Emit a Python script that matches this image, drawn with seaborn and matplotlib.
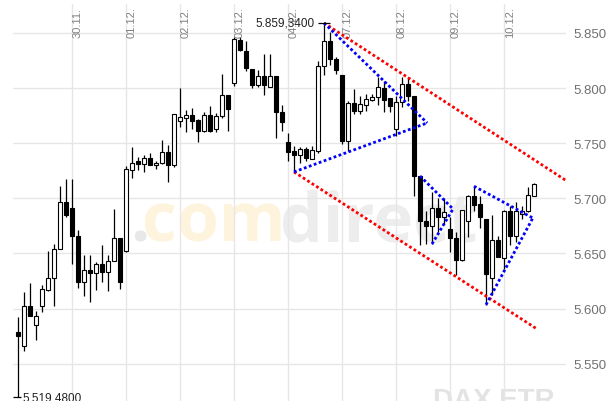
import matplotlib.pyplot as plt
import matplotlib.transforms as mtransforms
import seaborn as sns
import numpy as np

# hourly candles, DAX ETR 27.11. - 10.12.
opens = [5.579, 5.5665, 5.602, 5.585, 5.602, 5.617, 5.6275, 5.654, 5.6965,
         5.691, 5.6655, 5.624, 5.635, 5.6325, 5.6405, 5.6335, 5.6435, 5.664,
         5.652, 5.726, 5.734, 5.7315, 5.7365, 5.730, 5.732, 5.7425, 5.730,
         5.7705, 5.773, 5.7755, 5.7715, 5.7615, 5.7755, 5.763, 5.775, 5.794,
         5.8045, 5.844, 5.834, 5.817, 5.803, 5.811, 5.801, 5.811, 5.778,
         5.7515, 5.7432, 5.7396, 5.7448, 5.7357, 5.7427, 5.8203, 5.8425, 5.8264,
         5.8122, 5.7523, 5.7862, 5.7795, 5.785, 5.7895, 5.7917, 5.7998, 5.7908,
         5.7629, 5.7871, 5.8037, 5.7926, 5.72, 5.6798, 5.6747, 5.691, 5.6828,
         5.6722, 5.6638, 5.6444, 5.6798, 5.7024, 5.6949, 5.6813, 5.628, 5.6622,
         5.6457, 5.6888, 5.6656, 5.6858, 5.6888, 5.7024]
highs = [5.592, 5.6155, 5.623, 5.598, 5.621, 5.6525, 5.659, 5.711, 5.7175,
         5.7175, 5.671, 5.6485, 5.6485, 5.642, 5.658, 5.6485, 5.690, 5.664,
         5.7295, 5.747, 5.7375, 5.739, 5.741, 5.7335, 5.753, 5.7485, 5.7765,
         5.800, 5.780, 5.782, 5.772, 5.778, 5.7835, 5.777, 5.8125, 5.794,
         5.846, 5.846, 5.843, 5.817, 5.8165, 5.831, 5.831, 5.811, 5.7845,
         5.759, 5.7478, 5.7463, 5.7469, 5.7478, 5.8249, 5.8593, 5.8506, 5.828,
         5.8122, 5.788, 5.7992, 5.7931, 5.7947, 5.7947, 5.8098, 5.8067, 5.7908,
         5.7926, 5.8098, 5.8098, 5.7926, 5.72, 5.6888, 5.7061, 5.7001, 5.7001,
         5.6828, 5.6698, 5.6897, 5.7027, 5.711, 5.7024, 5.6813, 5.685, 5.6661,
         5.6897, 5.6934, 5.6964, 5.6928, 5.71, 5.7139]
lows = [5.5195, 5.562, 5.593, 5.5715, 5.597, 5.616, 5.6025, 5.654, 5.683,
        5.6405, 5.6185, 5.611, 5.606, 5.617, 5.624, 5.616, 5.643, 5.618,
        5.651, 5.7185, 5.726, 5.7235, 5.730, 5.7265, 5.731, 5.715, 5.728,
        5.7645, 5.760, 5.763, 5.7515, 5.760, 5.760, 5.760, 5.7725, 5.7615,
        5.802, 5.834, 5.8155, 5.800, 5.801, 5.794, 5.801, 5.7545, 5.7615,
        5.734, 5.724, 5.732, 5.7342, 5.7357, 5.741, 5.8122, 5.8212, 5.8128,
        5.7493, 5.7427, 5.7765, 5.7765, 5.7795, 5.788, 5.7847, 5.7781, 5.7786,
        5.7563, 5.7826, 5.7886, 5.7024, 5.658, 5.6586, 5.6586, 5.6692, 5.6768,
        5.6516, 5.6305, 5.6435, 5.6647, 5.6888, 5.6729, 5.6035, 5.612, 5.6465,
        5.6359, 5.6577, 5.6607, 5.6813, 5.6874, 5.7019]
closes = [5.575, 5.602, 5.5935, 5.5935, 5.618, 5.6275, 5.654, 5.6965, 5.685,
          5.6655, 5.624, 5.635, 5.6325, 5.6405, 5.6335, 5.6435, 5.664, 5.6245,
          5.7265, 5.7325, 5.731, 5.7365, 5.730, 5.7325, 5.7425, 5.730, 5.7765,
          5.7735, 5.7755, 5.7705, 5.7615, 5.776, 5.7615, 5.7745, 5.794, 5.781,
          5.8445, 5.8345, 5.818, 5.803, 5.811, 5.803, 5.811, 5.778, 5.7695,
          5.7425, 5.7396, 5.7448, 5.7366, 5.7442, 5.8203, 5.8425, 5.8264, 5.8164,
          5.7518, 5.7862, 5.7795, 5.7856, 5.7901, 5.7917, 5.8008, 5.7895, 5.7841,
          5.7871, 5.8037, 5.7926, 5.72, 5.6798, 5.6747, 5.691, 5.6828, 5.6874,
          5.6638, 5.6444, 5.6897, 5.7024, 5.694, 5.6828, 5.6314, 5.6622, 5.6465,
          5.6888, 5.6661, 5.6888, 5.6888, 5.7031, 5.713]

day_labels = ['30.11.', '01.12.', '02.12.', '03.12.', '04.12.', '07.12.', '08.12.', '09.12.', '10.12.']
day_pos = [9, 18, 27, 36, 45, 54, 63, 72, 81]
y_ticks = [5.55, 5.60, 5.65, 5.70, 5.75, 5.80, 5.85]
y_labels = ['5.550', '5.600', '5.650', '5.700', '5.750', '5.800', '5.850']

# trend lines drawn on the chart (candle index, price)
red_upper_x, red_upper_y = [51, 91.7], [5.8591, 5.7149]
red_lower_x, red_lower_y = [46, 86.5], [5.724, 5.5815]
blue_lines = [
    ([51, 68.2], [5.8591, 5.7684]),
    ([46, 68.2], [5.724, 5.7684]),
    ([67, 72.5], [5.7203, 5.6904]),
    ([69, 72.5], [5.6586, 5.6904]),
    ([76, 85.8], [5.711, 5.6822]),
    ([78, 85.8], [5.6035, 5.6822]),
]

sns.set_style('white')
plt.rcParams['font.family'] = ['Liberation Sans', 'DejaVu Sans']

fig = plt.figure(figsize=(6.08, 4.02), dpi=100)
ax = fig.add_axes([13 / 608, 0, 553 / 608, 397 / 402])

idx = np.arange(len(opens))
o = np.array(opens)
c = np.array(closes)
up = c >= o

# watermark
ax.text(18.7, 5.6614, '.', fontsize=49, fontweight='bold', family='Open Sans', color='#e8e8e8', zorder=0)
ax.text(20.7, 5.6614, 'com', fontsize=49, fontweight='bold', family='Open Sans', color='#fef4dd', zorder=0)
ax.text(43.7, 5.6614, 'direct', fontsize=49, fontweight='bold', family='Open Sans', color='#ededed', zorder=0)
ax.text(69.2, 5.5107, 'DAX ETR', fontsize=20, fontweight='bold', color='#e3e3e3', zorder=0, clip_on=True)

# candles
ax.vlines(idx, lows, highs, color='black', lw=0.9, zorder=3)
ax.bar(idx[up], (c - o)[up], bottom=o[up], width=0.7, color='white', edgecolor='black', lw=0.8, zorder=4)
ax.bar(idx[~up], (o - c)[~up], bottom=c[~up], width=0.7, color='black', edgecolor='black', lw=0.8, zorder=4)

# trend lines
dots = (0, (1, 0.9))
sns.lineplot(x=red_upper_x, y=red_upper_y, ax=ax, color='#ff0000', lw=2, linestyle=dots, zorder=5)
sns.lineplot(x=red_lower_x, y=red_lower_y, ax=ax, color='#ff0000', lw=2, linestyle=dots, zorder=5)
for bx, by in blue_lines:
    sns.lineplot(x=bx, y=by, ax=ax, color='#0000ff', lw=2, linestyle=dots, zorder=5)

# high / low markers
ax.hlines(max(highs), 50, 52, color='black', lw=0.9, zorder=5)
ax.text(49.5, max(highs), '5.859,3400', ha='right', va='center', fontsize=8.5, color='#222222')
ax.hlines(min(lows), -0.83, 0.5, color='black', lw=0.9, zorder=5)
ax.text(0.8, min(lows), '5.519,4800', ha='left', va='center', fontsize=8.5, color='#222222')

ax.set_xlim(-0.83, 91.33)
ax.set_ylim(5.5162, 5.8763)
ax.set_xticks(day_pos)
ax.set_yticks(y_ticks)
ax.set_yticklabels(y_labels)
ax.yaxis.tick_right()
ax.tick_params(axis='x', length=0, labelbottom=False)
ax.tick_params(axis='y', length=0, pad=5, labelsize=9.5, labelcolor='#707070')
ax.grid(color='#e6e6e6', lw=1)
ax.set_axisbelow(True)
for s in ax.spines.values():
    s.set_visible(False)

trans = mtransforms.blended_transform_factory(ax.transData, ax.transAxes)
for p, lbl in zip(day_pos, day_labels):
    ax.text(p + 1.0, 0.917, lbl, transform=trans, rotation=90, ha='center', va='bottom',
            fontsize=8, color='#808080')

plt.savefig('out.png', dpi=100)
